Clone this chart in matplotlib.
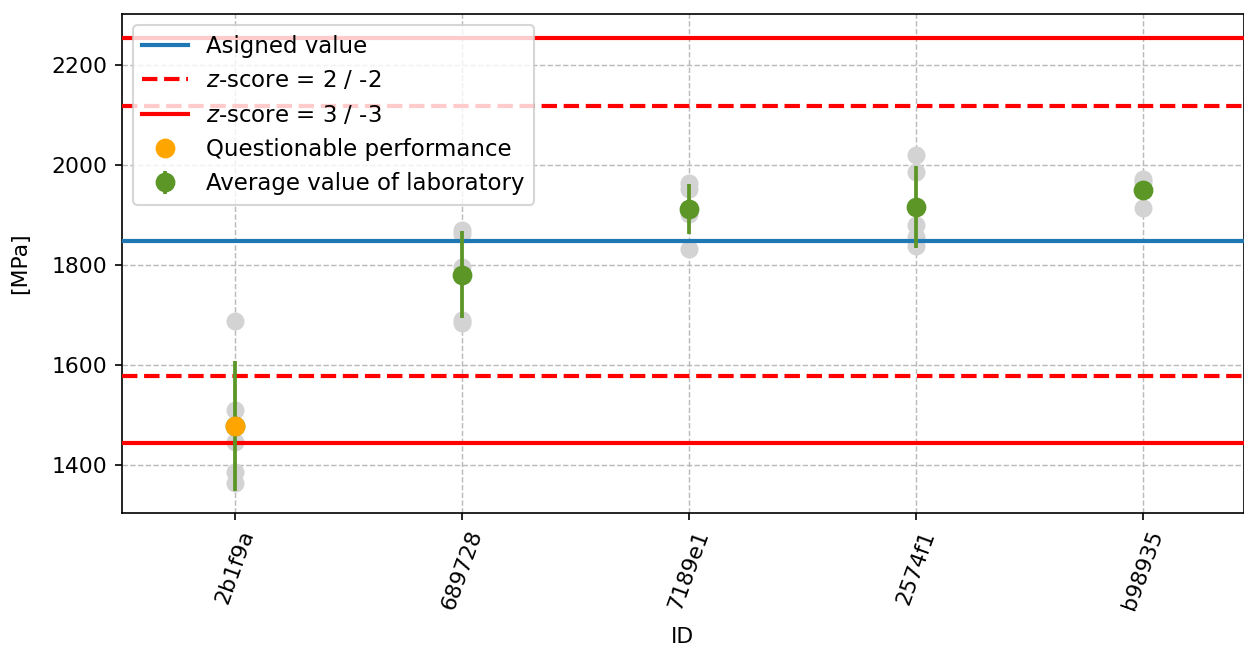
import numpy as np
import matplotlib
matplotlib.use('Agg')
import matplotlib.pyplot as plt
from matplotlib.lines import Line2D

plt.rcParams['font.family'] = ['DejaVu Sans']
plt.rcParams['font.size'] = 10.5

# laboratory IDs and single results
ids = ['2b1f9a', '689728', '7189e1', '2574f1', 'b98935']
results = [
    [1688, 1510, 1445, 1386, 1364],
    [1870, 1862, 1795, 1690, 1683],
    [1963, 1952, 1908, 1902, 1832],
    [2020, 1985, 1880, 1855, 1838],
    [1972, 1966, 1914],
]
lab_mean = [1478, 1780, 1912, 1915, 1950]
lab_err = [130, 87, 50, 82, 0]
questionable = [True, False, False, False, False]

assigned = 1848
sigma = 135

green = '#5b9627'

fig = plt.figure(figsize=(1244 / 150, 650 / 150), dpi=150)
ax = fig.add_axes([121.7 / 1244, 1 - 513 / 650, (1243.5 - 121.7) / 1244, (513 - 14) / 650])

x = np.arange(len(ids))

# single results
for i, r in enumerate(results):
    ax.scatter([x[i]] * len(r), r, s=75, color='lightgray', zorder=2, linewidths=0)

# reference lines
ax.axhline(assigned, color='tab:blue', lw=2, zorder=3)
ax.axhline(assigned + 2 * sigma, color='red', lw=2, ls='--', zorder=3)
ax.axhline(assigned - 2 * sigma, color='red', lw=2, ls='--', zorder=3)
ax.axhline(assigned + 3 * sigma, color='red', lw=2, zorder=3)
ax.axhline(assigned - 3 * sigma, color='red', lw=2, zorder=3)

# laboratory means
ax.errorbar(x, lab_mean, yerr=lab_err, fmt='o', color=green, ms=8.5,
            elinewidth=1.8, capsize=0, zorder=4)
q = [i for i in range(len(ids)) if questionable[i]]
ax.plot(x[q], np.array(lab_mean)[q], 'o', color='orange', ms=8.5, zorder=5)

ax.set_xlim(-0.5, 4.445)
ax.set_ylim(1303, 2301)
ax.set_xticks(x)
ax.set_xticklabels(ids, rotation=70)
ax.set_yticks([1400, 1600, 1800, 2000, 2200])
ax.grid(True, ls='--', color='#bbbbbb', lw=0.7, zorder=0)
ax.set_axisbelow(True)
ax.set_xlabel('ID', labelpad=7)
ax.set_ylabel('[MPa]', labelpad=10)

handles = [
    Line2D([], [], color='tab:blue', lw=2),
    Line2D([], [], color='red', lw=2, ls='--'),
    Line2D([], [], color='red', lw=2),
    Line2D([], [], color='orange', marker='o', ls='none', ms=8.5),
]
eb = ax.containers[0]
labels = ['Asigned value', '$z$-score = 2 / -2', '$z$-score = 3 / -3',
          'Questionable performance', 'Average value of laboratory']
ax.legend(handles + [eb], labels, loc='upper left', fontsize=11)

fig.savefig('out.png', dpi=150)
